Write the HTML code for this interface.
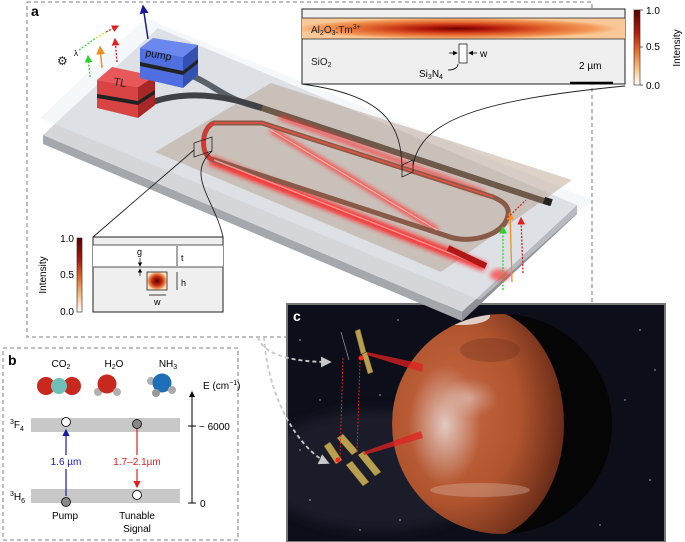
<!DOCTYPE html>
<html><head><meta charset="utf-8"><style>
html,body{margin:0;padding:0;background:#fff;}
svg{display:block;font-family:"Liberation Sans",sans-serif;}
</style></head><body>
<svg width="685" height="542" viewBox="0 0 685 542" xmlns="http://www.w3.org/2000/svg">
<defs>
<linearGradient id="cb" x1="0" y1="0" x2="0" y2="1">
<stop offset="0" stop-color="#5a0000"/><stop offset="0.3" stop-color="#b01a0a"/><stop offset="0.55" stop-color="#e8702a"/><stop offset="0.8" stop-color="#f9c890"/><stop offset="1" stop-color="#ffffff"/></linearGradient>
<radialGradient id="band" cx="0.48" cy="0.5" r="0.5">
<stop offset="0" stop-color="#6a0000"/><stop offset="0.25" stop-color="#b51c0c"/><stop offset="0.55" stop-color="#e0602a"/><stop offset="0.85" stop-color="#f39a58"/><stop offset="1" stop-color="#f8c898"/></radialGradient>
<radialGradient id="mode" cx="0.5" cy="0.5" r="0.5"><stop offset="0" stop-color="#5a0000"/><stop offset="0.5" stop-color="#c02a10"/><stop offset="0.85" stop-color="#f29050"/><stop offset="1" stop-color="#fde0c0"/></radialGradient>
<radialGradient id="mars" cx="0.35" cy="0.45" r="0.65"><stop offset="0" stop-color="#c86a44"/><stop offset="0.6" stop-color="#b0542e"/><stop offset="1" stop-color="#6a2c18"/></radialGradient>
<radialGradient id="cloud" cx="0.5" cy="0.5" r="0.5"><stop offset="0" stop-color="#e8e2e2" stop-opacity="0.8"/><stop offset="1" stop-color="#e0d4d4" stop-opacity="0"/></radialGradient>
<filter id="glow" x="-20%" y="-20%" width="140%" height="140%"><feGaussianBlur stdDeviation="2.5"/></filter>
<filter id="bl" x="-30%" y="-30%" width="160%" height="160%"><feGaussianBlur stdDeviation="6"/></filter>
<clipPath id="mc"><circle cx="502" cy="424" r="110"/></clipPath>
<clipPath id="cc"><rect x="287" y="304" width="378" height="238"/></clipPath>
<marker id="ab" markerWidth="6" markerHeight="6" refX="5" refY="3" orient="auto"><path d="M0,0L6,3L0,6z" fill="#1a1aa0"/></marker>
<marker id="ar" markerWidth="6" markerHeight="6" refX="5" refY="3" orient="auto"><path d="M0,0L6,3L0,6z" fill="#e02020"/></marker>
<marker id="ag" markerWidth="6" markerHeight="6" refX="5" refY="3" orient="auto"><path d="M0,0L6,3L0,6z" fill="#30d030"/></marker>
<marker id="ao" markerWidth="6" markerHeight="6" refX="5" refY="3" orient="auto"><path d="M0,0L6,3L0,6z" fill="#f09020"/></marker>
<marker id="agr" markerWidth="6" markerHeight="6" refX="5" refY="3" orient="auto"><path d="M0,0L6,3L0,6z" fill="#c8c8c8"/></marker>
<marker id="ak" markerWidth="6" markerHeight="6" refX="5" refY="3" orient="auto"><path d="M0,0L6,3L0,6z" fill="#000"/></marker>
</defs>

<rect x="27" y="2" width="565" height="335" fill="none" stroke="#999" stroke-width="1.3" stroke-dasharray="4,3"/>
<text x="31" y="16" font-size="14" font-weight="bold">a</text>

<!-- panel c -->
<g clip-path="url(#cc)">
<rect x="287" y="304" width="378" height="238" fill="#0c0f1a"/>
<ellipse cx="380" cy="470" rx="120" ry="60" fill="#2a2a3a" opacity="0.5" filter="url(#bl)"/>
<g fill="#fff" opacity="0.7">
<circle cx="300" cy="340" r="0.8"/><circle cx="320" cy="400" r="0.7"/><circle cx="310" cy="500" r="0.8"/><circle cx="398" cy="320" r="0.7"/><circle cx="380" cy="395" r="0.8"/><circle cx="640" cy="330" r="0.8"/><circle cx="625" cy="400" r="0.7"/><circle cx="650" cy="480" r="0.8"/><circle cx="600" cy="525" r="0.7"/><circle cx="400" cy="520" r="0.8"/><circle cx="360" cy="530" r="0.7"/><circle cx="655" cy="370" r="0.7"/><circle cx="300" cy="450" r="0.7"/>
</g>
<circle cx="502" cy="424" r="110" fill="#050505"/>
<g clip-path="url(#mc)">
<ellipse cx="478" cy="424" rx="86" ry="116" fill="url(#mars)"/>
<ellipse cx="445" cy="425" rx="36" ry="60" fill="url(#cloud)"/>
<ellipse cx="470" cy="398" rx="28" ry="20" fill="url(#cloud)" opacity="0.6"/>
<ellipse cx="490" cy="350" rx="30" ry="12" fill="#6a3020" opacity="0.35"/>
<ellipse cx="462" cy="316" rx="28" ry="9" fill="#eee" opacity="0.8"/>
<ellipse cx="480" cy="490" rx="50" ry="7" fill="#e0c0b0" opacity="0.35"/>
</g>
</g>
<rect x="287" y="304" width="378" height="238" fill="none" stroke="#777" stroke-width="2"/>
<text x="293" y="321" font-size="14" font-weight="bold" fill="#fff">c</text>
<g fill="#b8a050" stroke="#6a5a20" stroke-width="0.5">
<polygon points="355,331 360,329 366,352 361,354"/><polygon points="362,354 367,352 373,372 368,374"/>
<polygon points="337,438 343,434 358,451 352,455"/><polygon points="324,446 330,442 342,460 336,464"/>
<polygon points="346,465 352,461 369,482 363,486"/><polygon points="358,455 364,451 381,472 375,476"/>
</g>
<line x1="341" y1="332" x2="349" y2="360" stroke="#999" stroke-width="0.7"/>
<circle cx="361" cy="358" r="2.5" fill="#ff2020"/><circle cx="338" cy="460" r="2.5" fill="#ff2020"/>
<line x1="343" y1="358" x2="340" y2="458" stroke="#e02020" stroke-width="1" stroke-dasharray="2,1.5"/>
<line x1="360" y1="362" x2="357" y2="452" stroke="#e02020" stroke-width="1" stroke-dasharray="2,1.5"/>
<polygon points="367,352 423,364 422,372 367,355" fill="#e02020" opacity="0.75"/>
<polygon points="363,452 421,431 423,438 364,455" fill="#e02020" opacity="0.75"/>
<path d="M258,337 C262,352 285,362 330,362" fill="none" stroke="#c8c8c8" stroke-width="1.8" stroke-dasharray="4,3" marker-end="url(#agr)"/>
<path d="M264,337 C268,400 300,450 328,463" fill="none" stroke="#c8c8c8" stroke-width="1.8" stroke-dasharray="4,3" marker-end="url(#agr)"/>

<!-- chip slab -->
<polygon points="43,135 462,312 462,321 43,144" fill="#a4a7ab"/>
<polygon points="462,312 577,205 577,214 462,321" fill="#8e9196"/>
<polygon points="43,135 158,28 577,205 462,312" fill="#d4d6d9"/>
<polygon points="40,118 145,18 592,200 480,300" fill="#e8f0f6" opacity="0.45"/>
<polygon points="155,152 271,83 572,180 441,272" fill="#b39a86" opacity="0.45"/>
<path d="M190,75 C215,85 225,100 262,108 L550,203" fill="none" stroke="#5a6068" stroke-width="6"/>
<path d="M150,103 C185,90 225,95 262,108" fill="none" stroke="#3e4246" stroke-width="6"/>
<path d="M262,108 L550,203" fill="none" stroke="#6e5a4a" stroke-width="6"/>
<rect x="544" y="198" width="8" height="7" fill="#222" transform="rotate(18 548 201)"/>
<g filter="url(#glow)" opacity="0.85">
<path d="M210,160 L485,267" stroke="#ff1a1a" stroke-width="9" fill="none"/>
<path d="M271,130 L437,230" stroke="#ff2a2a" stroke-width="5" fill="none"/>
<path d="M279,117 L485,193" stroke="#ff3030" stroke-width="4" fill="none"/>
</g>
<path d="M214,123 C200,128 200,158 214,160 L447,236 C470,245 505,235 508,215 C510,205 500,200 493,197 L262,123 Z" fill="none" stroke="#8a5a48" stroke-width="5"/>
<path d="M214,123 C200,128 200,158 214,160" fill="none" stroke="#e83030" stroke-width="3"/>
<path d="M214,123 L262,123 L493,197" fill="none" stroke="#e85040" stroke-width="1.6"/>
<path d="M214,160 L485,267" stroke="#ff9090" stroke-width="1.5" fill="none"/>
<path d="M271,130 L437,230" stroke="#ffb0a0" stroke-width="1.2" fill="none"/>
<line x1="448" y1="248" x2="486" y2="266" stroke="#b01818" stroke-width="6"/>
<ellipse cx="500" cy="275" rx="10" ry="6" fill="#ff3030" opacity="0.7" filter="url(#glow)"/>
<line x1="503" y1="290" x2="503" y2="227" stroke="#30d030" stroke-width="1.3" stroke-dasharray="2,1.5" marker-end="url(#ag)"/>
<line x1="512" y1="282" x2="510" y2="213" stroke="#f09020" stroke-width="1.3" marker-end="url(#ao)"/>
<line x1="523" y1="273" x2="521" y2="218" stroke="#d02020" stroke-width="1.3" stroke-dasharray="2,1.5" marker-end="url(#ar)"/>
<line x1="505" y1="220" x2="526" y2="200" stroke="#d02020" stroke-width="1.2" stroke-dasharray="2,1.5"/>

<polygon points="97,80 138,87 138,118 97,108" fill="#d84444"/>
<polygon points="138,87 155,76 155,105 138,118" fill="#a82828"/>
<polygon points="97,80 112,67 155,76 138,87" fill="#e85858"/>
<polygon points="97,94 138,101 138,105 97,98" fill="#222"/><polygon points="138,101 155,90 155,94 138,105" fill="#222"/>
<text x="113" y="85" font-size="11" fill="#222" transform="rotate(10 113 85)">TL</text>
<polygon points="140,48 183,57 183,88 140,78" fill="#4f6ee0"/>
<polygon points="183,57 198,45 198,75 183,88" fill="#3450b0"/>
<polygon points="140,48 153,38 198,45 183,57" fill="#6a88ee"/>
<polygon points="140,62 183,71 183,75 140,66" fill="#222"/><polygon points="183,71 198,59 198,63 183,75" fill="#222"/>
<text x="145" y="56" font-size="10.5" fill="#111" transform="rotate(10 145 56)">pump</text>
<line x1="148" y1="39" x2="143" y2="6" stroke="#1a1aa0" stroke-width="1.5" marker-end="url(#ab)"/>
<line x1="90" y1="77" x2="88" y2="56" stroke="#30d030" stroke-width="1.3" stroke-dasharray="2,1.5" marker-end="url(#ag)"/>
<line x1="102" y1="68" x2="100" y2="47" stroke="#f09020" stroke-width="1.5" marker-end="url(#ao)"/>
<line x1="117" y1="62" x2="115" y2="39" stroke="#d02020" stroke-width="1.3" stroke-dasharray="2,1.5" marker-end="url(#ar)"/>
<line x1="79" y1="50" x2="96" y2="38" stroke="#30d030" stroke-width="1.2" stroke-dasharray="2,1.5"/>
<line x1="96" y1="38" x2="106" y2="32" stroke="#e0d020" stroke-width="1.2" stroke-dasharray="2,1.5"/>
<line x1="106" y1="32" x2="118" y2="26" stroke="#d02020" stroke-width="1.2" stroke-dasharray="2,1.5" marker-end="url(#ar)"/>
<text x="57" y="65" font-size="12" fill="#222">⚙</text><text x="74" y="56" font-size="8">λ</text>

<polygon points="194,143 212,137 212,151 194,157" fill="none" stroke="#222" stroke-width="0.8"/>
<line x1="93" y1="237" x2="194" y2="150" stroke="#222" stroke-width="0.9"/>
<path d="M223,237 C215,200 185,175 212,151" fill="none" stroke="#222" stroke-width="0.9"/>
<polygon points="402,165 413,160 413,172 402,177" fill="none" stroke="#222" stroke-width="0.8"/>
<path d="M302,84 C380,95 402,120 402,170" fill="none" stroke="#222" stroke-width="0.9"/>
<path d="M625,86 C480,100 420,120 413,166" fill="none" stroke="#222" stroke-width="0.9"/>

<rect x="302" y="9" width="323" height="75" fill="#efefef" stroke="#222" stroke-width="1"/>
<rect x="302" y="18" width="323" height="21" fill="url(#band)"/>
<line x1="302" y1="18" x2="625" y2="18" stroke="#222" stroke-width="0.8"/>
<line x1="302" y1="39" x2="625" y2="39" stroke="#222" stroke-width="0.8"/>
<text x="311" y="33" font-size="10" fill="#222">Al<tspan font-size="7" dy="2">2</tspan><tspan dy="-2">O</tspan><tspan font-size="7" dy="2">3</tspan><tspan dy="-2">:Tm</tspan><tspan font-size="7" dy="-4">3+</tspan></text>
<text x="311" y="65" font-size="10" fill="#222">SiO<tspan font-size="7" dy="2">2</tspan></text>
<rect x="459" y="44" width="8" height="19" fill="#fff" stroke="#222" stroke-width="0.8"/>
<line x1="449" y1="53" x2="457" y2="53" stroke="#000" stroke-width="0.8" marker-end="url(#ak)"/>
<line x1="477" y1="53" x2="469" y2="53" stroke="#000" stroke-width="0.8" marker-end="url(#ak)"/>
<text x="480" y="57" font-size="10">w</text>
<text x="419" y="77" font-size="10">Si<tspan font-size="7" dy="2">3</tspan><tspan dy="-2">N</tspan><tspan font-size="7" dy="2">4</tspan></text>
<path d="M448,70 C455,70 458,67 458,64" fill="none" stroke="#000" stroke-width="0.8"/>
<text x="579" y="69" font-size="10">2 µm</text>
<line x1="570" y1="83" x2="613" y2="83" stroke="#000" stroke-width="2.5"/>
<rect x="634" y="10" width="6" height="75" fill="url(#cb)" stroke="#222" stroke-width="0.6"/>
<g font-size="10"><text x="646" y="14">1.0</text><text x="646" y="50">0.5</text><text x="646" y="89">0.0</text></g>
<g stroke="#222" stroke-width="0.7"><line x1="640" y1="10" x2="643" y2="10"/><line x1="640" y1="47" x2="643" y2="47"/><line x1="640" y1="85" x2="643" y2="85"/></g>
<text x="680" y="48" font-size="10" transform="rotate(-90 680 48)" text-anchor="middle">Intensity</text>

<rect x="93" y="237" width="130" height="75" fill="#efefef" stroke="#222" stroke-width="1"/>
<rect x="93" y="245" width="130" height="22" fill="#fff"/>
<line x1="93" y1="245" x2="223" y2="245" stroke="#222" stroke-width="0.8"/>
<line x1="93" y1="267" x2="223" y2="267" stroke="#555" stroke-width="1"/>
<rect x="147" y="272" width="20" height="18" fill="url(#mode)" stroke="#222" stroke-width="0.8"/>
<text x="137" y="255" font-size="9">g</text>
<line x1="140" y1="258" x2="140" y2="266" stroke="#000" stroke-width="0.7" marker-end="url(#ak)"/>
<line x1="140" y1="276" x2="140" y2="269" stroke="#000" stroke-width="0.7" marker-end="url(#ak)"/>
<line x1="177" y1="246" x2="177" y2="266" stroke="#000" stroke-width="0.7"/><text x="181" y="261" font-size="9">t</text>
<line x1="177" y1="272" x2="177" y2="290" stroke="#000" stroke-width="0.7"/><text x="181" y="286" font-size="9">h</text>
<line x1="149" y1="295" x2="166" y2="295" stroke="#000" stroke-width="0.8"/><text x="154" y="305" font-size="9">w</text>
<rect x="77" y="238" width="5" height="74" fill="url(#cb)" stroke="#222" stroke-width="0.6"/>
<g font-size="10" text-anchor="end"><text x="74" y="242">1.0</text><text x="74" y="278">0.5</text><text x="74" y="315">0.0</text></g>
<text x="46" y="275" font-size="10" transform="rotate(-90 46 275)" text-anchor="middle">Intensity</text>

<rect x="3" y="348" width="235" height="192" fill="none" stroke="#999" stroke-width="1.3" stroke-dasharray="4,3"/>
<text x="8" y="365" font-size="14" font-weight="bold">b</text>
<g font-size="10" text-anchor="middle">
<text x="61" y="367">CO<tspan font-size="7" dy="2">2</tspan></text>
<text x="114" y="367">H<tspan font-size="7" dy="2">2</tspan><tspan dy="-2">O</tspan></text>
<text x="168" y="367">NH<tspan font-size="7" dy="2">3</tspan></text>
</g>
<circle cx="46" cy="386" r="9" fill="#c8281e"/><circle cx="72" cy="386" r="9" fill="#c8281e"/><circle cx="59" cy="386" r="8" fill="#6cc0b8"/>
<circle cx="98" cy="392" r="4" fill="#b0b0b0"/><circle cx="107" cy="384" r="9.5" fill="#c8281e"/><circle cx="117" cy="392" r="4" fill="#b0b0b0"/>
<circle cx="151" cy="381" r="4" fill="#b0b0b0"/><circle cx="162" cy="383" r="9.5" fill="#1f6eb8"/><circle cx="156" cy="393" r="4" fill="#999"/><circle cx="172" cy="390" r="4" fill="#aaa"/>
<rect x="31" y="418" width="149" height="14" fill="#c8c8c8"/>
<rect x="31" y="489" width="149" height="14" fill="#c8c8c8"/>
<text x="10" y="428" font-size="10"><tspan font-size="7" dy="-4">3</tspan><tspan dy="4">F</tspan><tspan font-size="7" dy="3">4</tspan></text>
<text x="10" y="500" font-size="10"><tspan font-size="7" dy="-4">3</tspan><tspan dy="4">H</tspan><tspan font-size="7" dy="3">6</tspan></text>
<line x1="66" y1="496" x2="66" y2="430" stroke="#1a1aa0" stroke-width="1.2" marker-end="url(#ab)"/>
<line x1="137" y1="428" x2="137" y2="487" stroke="#e02020" stroke-width="1.2" marker-end="url(#ar)"/>
<rect x="44" y="455" width="44" height="14" fill="#fff"/><rect x="108" y="455" width="58" height="14" fill="#fff"/>
<text x="66" y="465" font-size="10" fill="#1a1ab0" text-anchor="middle">1.6 µm</text>
<text x="137" y="465" font-size="10" fill="#e02020" text-anchor="middle">1.7–2.1µm</text>
<circle cx="66" cy="422" r="4.5" fill="#fff" stroke="#222"/><circle cx="137" cy="424" r="4.5" fill="#888" stroke="#222"/>
<circle cx="66" cy="502" r="4.5" fill="#888" stroke="#222"/><circle cx="137" cy="495" r="4.5" fill="#fff" stroke="#222"/>
<g font-size="10" text-anchor="middle"><text x="65" y="519">Pump</text><text x="137" y="519">Tunable</text><text x="137" y="532">Signal</text></g>
<line x1="192" y1="503" x2="192" y2="392" stroke="#000" stroke-width="1" marker-end="url(#ak)"/>
<line x1="188" y1="426" x2="196" y2="426" stroke="#000"/><line x1="188" y1="503" x2="196" y2="503" stroke="#000"/>
<text x="203" y="389" font-size="10">E (cm<tspan font-size="7" dy="-4">−1</tspan><tspan dy="4">)</tspan></text>
<text x="199" y="430" font-size="10">~ 6000</text>
<text x="200" y="507" font-size="10">0</text>
</svg>
</body></html>
